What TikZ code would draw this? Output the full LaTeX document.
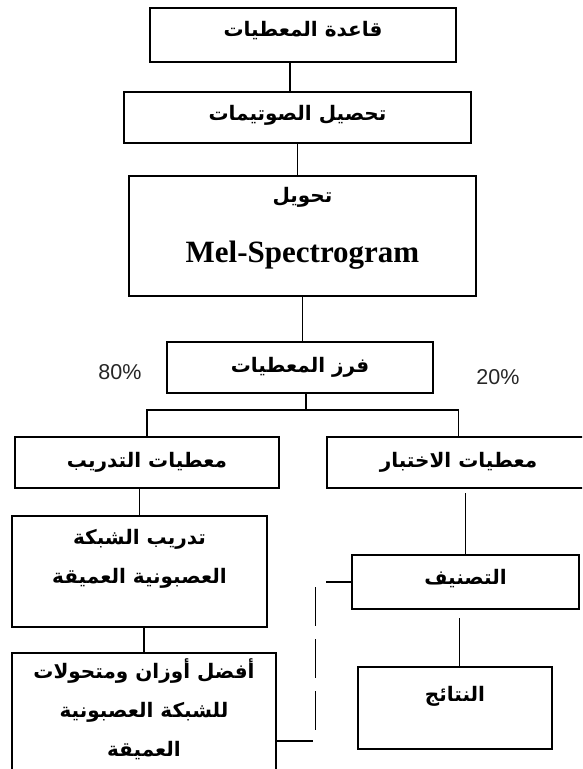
\documentclass[tikz,border=0pt]{standalone}
\usepackage{fontspec}
\usepackage{tikz}
\usetikzlibrary{positioning, calc}
\setmainfont{Liberation Serif}
\newfontfamily\arabicfont[Script=Arabic]{DejaVu Sans}
\newfontfamily\pctfont{Liberation Sans}
\TeXXeTstate=1
\newcommand{\artxt}[1]{{\arabicfont\bfseries\beginR #1\endR}}
\tikzstyle{block} = [rectangle, draw=black, line width=1.6pt, text centered, align=center, font=\fontsize{20}{39}\selectfont]
\tikzstyle{link} = [line width=1.4pt]
\tikzstyle{share} = [font=\pctfont\fontsize{21.5}{24}\selectfont, text=black!85]

\begin{document}
\begin{tikzpicture}[x=1pt, y=1pt, node distance=100pt]
    \useasboundingbox (0,0) rectangle (582,-769);
    \clip (0,0) rectangle (582,-769);

    \node (data) [block, minimum width=306pt, minimum height=54pt, text depth=12pt] at (303,-35) {\artxt{قاعدة المعطيات}};
    \node (phon) [block, minimum width=347pt, minimum height=51pt, below of=data, xshift=-5.5pt, yshift=17.5pt, text depth=10pt] {\artxt{تحصيل الصوتيمات}};
    \node (mel) [block, minimum width=347pt, minimum height=120pt, below of=phon, xshift=5pt, yshift=-18.5pt, text depth=22pt] {\artxt{تحويل}\\[21pt]{\bfseries\fontsize{31}{34}\selectfont Mel-Spectrogram}};
    \node (sort) [block, minimum width=266pt, minimum height=51pt, below of=mel, xshift=-2.5pt, yshift=-31.5pt] {\artxt{فرز المعطيات}};

    \node (pct80) [share, left of=sort, xshift=-80pt, yshift=-4.5pt] {80\%};
    \node (pct20) [share, right of=sort, xshift=98pt, yshift=-9.5pt] {20\%};

    \node (train) [block, minimum width=264pt, minimum height=51pt, below of=sort, xshift=-153pt, yshift=5pt] {\artxt{معطيات التدريب}};
    \node (test) [block, minimum width=263pt, minimum height=51pt, below of=sort, xshift=158.5pt, yshift=5pt] {\artxt{معطيات الاختبار}};

    \node (net) [block, minimum width=255pt, minimum height=111pt, below of=train, xshift=-7.5pt, yshift=-9pt, text depth=30pt] {\artxt{تدريب الشبكة}\\\artxt{العصبونية العميقة}};
    \node (best) [block, minimum width=264pt, minimum height=137pt, below of=net, xshift=4.5pt, yshift=-50pt, text depth=28pt] {\artxt{أفضل أوزان ومتحولات}\\\artxt{للشبكة العصبونية}\\\artxt{العميقة}};

    \node (classify) [block, minimum width=227pt, minimum height=54pt, below of=test, xshift=7pt, yshift=-19.5pt, text depth=10pt] {\artxt{التصنيف}};
    \node (result) [block, minimum width=194pt, minimum height=82pt, below of=classify, xshift=-10.5pt, yshift=-26pt, text depth=28pt] {\artxt{النتائج}};

    % main column
    \draw [link] ([xshift=-13pt]data.south) -- ([xshift=-13pt]data.south |- phon.north);
    \draw [link] (phon.south) -- (phon.south |- mel.north);
    \draw [link] (mel.south) -- (mel.south |- sort.north);

    % split 80/20
    \coordinate (fork) at ([xshift=6pt, yshift=-16pt]sort.south);
    \draw [link] ([xshift=6pt]sort.south) -- (fork);
    \draw [link] (train.north) |- (fork) -| (test.north);

    \draw [link] (net.north) -- (net.north |- train.south);
    \draw [link] (best.north) -- (best.north |- net.south);
    \draw [link, shorten >=4pt] (classify.north) -- (classify.north |- test.south);
    \draw [link, shorten >=8pt] ([xshift=-6pt]classify.south |- result.north) -- ([xshift=-6pt]classify.south);

    % weights go to the classifier
    \coordinate (fbin) at ([xshift=-25pt]classify.west);
    \coordinate (fbtop) at ([xshift=-36pt, yshift=-5pt]classify.west);
    \coordinate (fbout) at ([yshift=-19.5pt]best.east);
    \coordinate (fbbot) at (fbtop |- fbout);
    \draw [link] (classify.west) -- (fbin);
    \draw [link] (fbout) -- ([xshift=-2pt]fbbot);
    \draw [link, dash pattern=on 39pt off 13pt] (fbtop) -- ([yshift=11pt]fbbot);
\end{tikzpicture}
\end{document}
